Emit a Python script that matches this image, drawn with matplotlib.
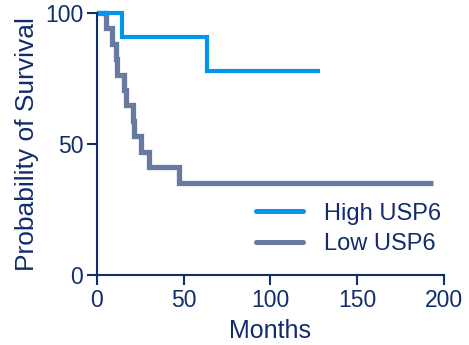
import matplotlib.pyplot as plt

plt.rcParams['font.family'] = ['Liberation Sans', 'DejaVu Sans']

# Kaplan-Meier curves (months, % surviving)
high_months = [0, 14.5, 63.5, 128.5]
high_surv = [100, 90.9, 77.9, 77.9]

low_months = [0, 5, 8.8, 11, 11.8, 15.6, 16.7, 20.7, 21.3, 25.4, 30, 47.3, 193.5]
low_surv = [100, 94.1, 88.2, 82.4, 76.5, 70.6, 64.7, 58.8, 52.9, 47.1, 41.2, 35.3, 35.3]

x_ticks = [0, 50, 100, 150, 200]
y_ticks = [0, 50, 100]

navy = '#122c6c'
blue = '#0096ee'
grey = '#687aa2'

fig = plt.figure(figsize=(4.69, 3.45), dpi=100)
ax = fig.add_axes([0.2068, 0.2029, 0.7399, 0.7594])

ax.step(low_months, low_surv, where='post', color=grey, lw=3.8,
        solid_capstyle='butt', solid_joinstyle='miter', clip_on=False, label='Low USP6')
ax.step(high_months, high_surv, where='post', color=blue, lw=3.0,
        solid_capstyle='butt', solid_joinstyle='miter', clip_on=False, label='High USP6')

ax.set_xlim(0, 200)
ax.set_ylim(0, 100)
ax.set_xticks(x_ticks)
ax.set_yticks(y_ticks)

for side in ['top', 'right']:
    ax.spines[side].set_visible(False)
for side in ['left', 'bottom']:
    ax.spines[side].set_color(navy)
    ax.spines[side].set_linewidth(1.5)

ax.tick_params(axis='both', colors=navy, labelcolor=navy, length=7, width=1.5,
               labelsize=16.5, pad=3)

ax.set_xlabel('Months', fontsize=18, color=navy, labelpad=5)
ax.set_ylabel('Probability of Survival', fontsize=19, color=navy, labelpad=4)

handles, labels = ax.get_legend_handles_labels()
leg = ax.legend(handles[::-1], labels[::-1], loc='center', bbox_to_anchor=(0.725, 0.176),
                frameon=False, fontsize=17, handlelength=2.0, handletextpad=0.9,
                labelspacing=0.37, borderpad=0)
for t in leg.get_texts():
    t.set_color(navy)
for h in leg.get_lines():
    h.set_linewidth(3.6)
    h.set_solid_capstyle('round')

fig.savefig('out.png', dpi=100)
